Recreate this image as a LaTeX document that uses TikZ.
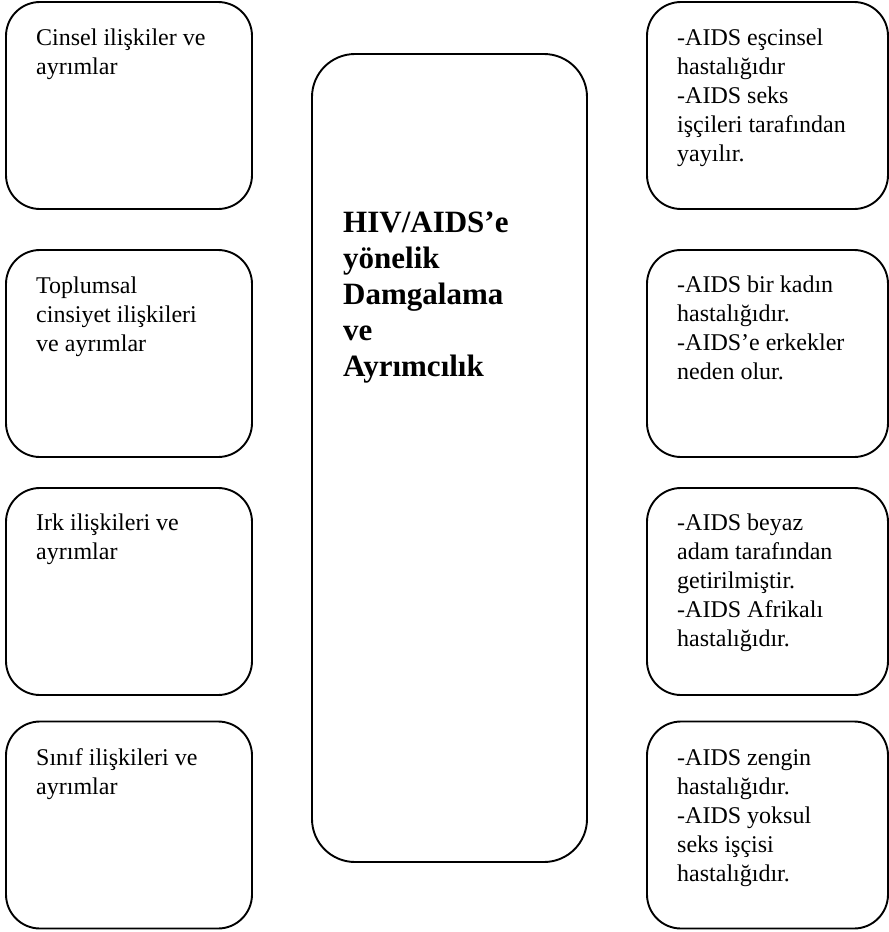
\documentclass[tikz,border=0pt]{standalone}
\usepackage{fontspec}
\setmainfont{Liberation Serif}
\begin{document}
\begin{tikzpicture}[x=1pt,y=-1pt,
  box/.style={draw=black,line width=1.9pt,rounded corners=34pt,inner sep=0pt},
  sidebox/.style={box,minimum width=246pt,minimum height=207pt},
  rbox/.style={box,minimum width=241pt,minimum height=207pt},
  cbox/.style={box,rounded corners=43pt,minimum width=275pt,minimum height=808pt},
  txt/.style={anchor=north west,inner sep=0pt,align=left,font=\fontsize{24}{29}\selectfont},
  ctxt/.style={anchor=north west,inner sep=0pt,align=left,font=\fontsize{31}{36}\selectfont\bfseries}]
\useasboundingbox (0,0) rectangle (889,932);
% left boxes
\node[sidebox] (L1) at (129,105.5) {};
\node[sidebox] (L2) at (129,353.5) {};
\node[sidebox] (L3) at (129,591.5) {};
\node[sidebox] (L4) at (129,825) {};
% right boxes
\node[rbox] (R1) at (767.5,105.5) {};
\node[rbox] (R2) at (767.5,353.5) {};
\node[rbox] (R3) at (767.5,591.5) {};
\node[rbox] (R4) at (767.5,825) {};
% center
\node[cbox] (C) at (449.5,458) {};
% texts (first baseline = y + 20.3)
\node[txt] (tL1) at (36,24.7) {\strut Cinsel ilişkiler ve\\ayrımlar};
\node[txt] (tL2) at (36,272.7) {\strut Toplumsal\\cinsiyet ilişkileri\\ve ayrımlar};
\node[txt] (tL3) at (36,509.7) {\strut Irk ilişkileri ve\\ayrımlar};
\node[txt] (tL4) at (36,744.7) {\strut Sınıf ilişkileri ve\\ayrımlar};
\node[txt] (tR1) at (677,24.7) {\strut -AIDS eşcinsel\\hastalığıdır\\-AIDS seks\\işçileri tarafından\\yayılır.};
\node[txt] (tR2) at (677,271.7) {\strut -AIDS bir kadın\\hastalığıdır.\\-AIDS’e erkekler\\neden olur.};
\node[txt] (tR3) at (677,509.7) {\strut -AIDS beyaz\\adam tarafından\\getirilmiştir.\\-AIDS Afrikalı\\hastalığıdır.};
\node[txt] (tR4) at (677,744.7) {\strut -AIDS zengin\\hastalığıdır.\\-AIDS yoksul\\seks işçisi\\hastalığıdır.};
\node[ctxt] (tC) at (343,206.8) {\strut HIV/AIDS’e\\yönelik\\Damgalama\\ve\\Ayrımcılık};
\end{tikzpicture}
\end{document}
